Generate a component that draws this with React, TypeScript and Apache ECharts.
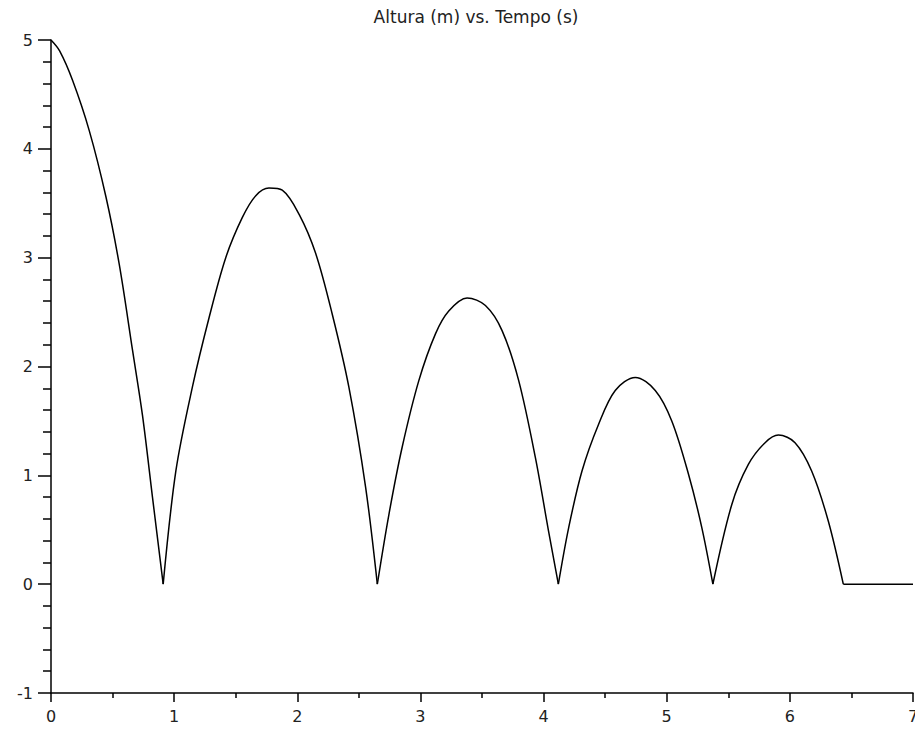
import React, { useEffect, useRef } from "react";
import * as echarts from "echarts";

const titleText = "Altura (m) vs. Tempo (s)";
const xTicks = [0, 1, 2, 3, 4, 5, 6, 7];
const yTicks = [-1, 0, 1, 2, 3, 4, 5];

// [tempo (s), altura (m)], one array per arc
const drop: [number, number][] = [
  [0, 5], [0.07, 4.9], [0.175, 4.63], [0.31, 4.17], [0.446, 3.56],
  [0.554, 2.94], [0.662, 2.15], [0.743, 1.55], [0.824, 0.8], [0.911, 0],
];
const bounce1: [number, number][] = [
  [0.911, 0], [1.014, 1.04], [1.148, 1.81], [1.284, 2.45], [1.419, 3.0], [1.554, 3.37],
  [1.663, 3.57], [1.77, 3.64], [1.878, 3.62], [2.014, 3.4], [2.149, 3.04], [2.284, 2.48],
  [2.419, 1.81], [2.555, 0.89], [2.65, 0],
];
const bounce2: [number, number][] = [
  [2.65, 0], [2.744, 0.64], [2.852, 1.26], [2.987, 1.87], [3.122, 2.3], [3.23, 2.51],
  [3.379, 2.63], [3.528, 2.56], [3.663, 2.33], [3.798, 1.87], [3.934, 1.16], [4.04, 0.49],
  [4.12, 0],
];
const bounce3: [number, number][] = [
  [4.12, 0], [4.204, 0.52], [4.312, 1.04], [4.447, 1.47], [4.582, 1.78], [4.745, 1.9],
  [4.907, 1.78], [5.041, 1.5], [5.177, 1.01], [5.285, 0.52], [5.375, 0],
];
const bounce4: [number, number][] = [
  [5.375, 0], [5.528, 0.73], [5.663, 1.1], [5.799, 1.3], [5.907, 1.37], [6.042, 1.3],
  [6.177, 1.04], [6.312, 0.58], [6.434, 0],
];
const rest: [number, number][] = [
  [6.434, 0], [7, 0],
];

const arcs = [drop, bounce1, bounce2, bounce3, bounce4];

export default function App() {
  const ref = useRef<HTMLDivElement>(null);
  useEffect(() => {
    if (!ref.current) return;
    const chart = echarts.init(ref.current, null, { renderer: "svg" });
    const font = "DejaVu Sans";
    const lineStyle = { color: "#000", width: 1.5 };
    chart.setOption({
      animation: false,
      backgroundColor: "#fff",
      title: {
        text: titleText,
        left: 471,
        textAlign: "center",
        top: 3,
        textStyle: { fontFamily: font, fontSize: 17, fontWeight: "normal", color: "#222" },
      },
      grid: { left: 51, right: 2, top: 40, bottom: 36, outerBoundsMode: "none" },
      xAxis: {
        type: "value",
        min: xTicks[0],
        max: xTicks[xTicks.length - 1],
        interval: 1,
        axisLine: { show: true, onZero: false, lineStyle: { color: "#000", width: 1.5 } },
        axisTick: { show: true, length: 9, lineStyle: { color: "#000", width: 1.5 } },
        minorTick: { show: true, splitNumber: 2, length: 5, lineStyle: { color: "#000", width: 1.5 } },
        splitLine: { show: false },
        axisLabel: { margin: 15, fontFamily: font, fontSize: 16, color: "#222", showMaxLabel: true },
      },
      yAxis: {
        type: "value",
        min: yTicks[0],
        max: yTicks[yTicks.length - 1],
        interval: 1,
        axisLine: { show: true, onZero: false, lineStyle: { color: "#000", width: 1.5 } },
        axisTick: { show: true, length: 13, lineStyle: { color: "#000", width: 1.5 } },
        minorTick: { show: true, splitNumber: 5, length: 8, lineStyle: { color: "#000", width: 1.5 } },
        splitLine: { show: false },
        axisLabel: { margin: 18, fontFamily: font, fontSize: 16, color: "#222" },
      },
      series: [
        ...arcs.map((d) => ({
          type: "line",
          data: d,
          smooth: 0.33,
          showSymbol: false,
          lineStyle,
        })),
        { type: "line", data: rest, showSymbol: false, lineStyle },
      ],
    });
    return () => chart.dispose();
  }, []);
  return (
    <div
      ref={ref}
      style={{ position: "fixed", left: 0, top: 0, width: 915, height: 729, background: "#fff" }}
    />
  );
}
